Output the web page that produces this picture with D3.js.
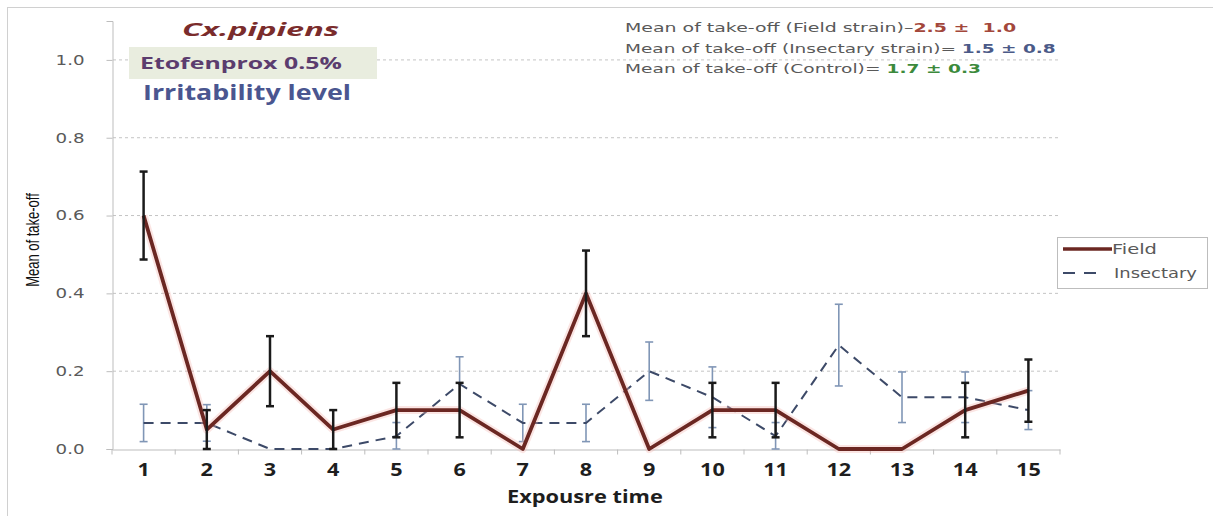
<!doctype html>
<html>
<head>
<style>
  body { margin: 0; background: #fff; }
  svg { display: block; }
  .grid line { stroke: #c4c4c4; stroke-dasharray: 3,3; }
  .pre { white-space: pre; }
</style>
<script src="https://d3js.org/d3.v7.min.js"></script>
</head>
<body>
<script>
// values
var times = [1, 2, 3, 4, 5, 6, 7, 8, 9, 10, 11, 12, 13, 14, 15];
var fieldMean = [0.6, 0.05, 0.2, 0.05, 0.1, 0.1, 0, 0.4, 0, 0.1, 0.1, 0, 0, 0.1, 0.15];
var fieldErr = [0.113, 0.05, 0.09, 0.05, 0.07, 0.07, 0, 0.11, 0, 0.07, 0.07, 0, 0, 0.07, 0.08];
var insectMean = [0.067, 0.067, 0, 0, 0.033, 0.167, 0.067, 0.067, 0.2, 0.133, 0.033, 0.267, 0.133, 0.133, 0.1];
var insectErr = [0.048, 0.047, 0, 0, 0.035, 0.07, 0.048, 0.048, 0.075, 0.078, 0.035, 0.105, 0.065, 0.065, 0.05];
var yTicks = [0, 0.2, 0.4, 0.6, 0.8, 1.0];
var seriesNames = ["Field", "Insectary"];
var summaryLabels = ["Mean of take-off (Field strain)\u2013", "Mean of take-off (Insectary strain)= ", "Mean of take-off (Control)= "];
var summaryValues = ["2.5 \u00b1  1.0", "1.5 \u00b1 0.8", "1.7 \u00b1 0.3"];

var canvasWidth = 1213;
var canvasHeight = 516;
var fieldColor = "#6b2722";
var insectColor = "#3d4a68";
var insectErrColor = "#8096b6";
var summaryColors = ["#a3473b", "#4b5a88", "#3c8a3c"];

var svg = d3.select("body").append("svg")
    .attr("width", canvasWidth)
    .attr("height", canvasHeight);

// the source image is stretched sideways, so text gets widened to fit
function stretchTo(text, width) {
    var w = text.node().getBBox().width;
    var x = +text.attr("x"), y = +text.attr("y");
    text.attr("x", 0).attr("y", 0)
        .attr("transform", "translate(" + x + "," + y + ") scale(" + (width / w) + ",1)");
}

// outer frame
svg.append("rect")
    .attr("x", 7.5).attr("y", 7.5)
    .attr("width", canvasWidth + 10).attr("height", canvasHeight + 10)
    .attr("fill", "none").attr("stroke", "#d0d0d0");

var xScale = d3.scaleBand().domain(times).range([112, 1060]);
var yScale = d3.scaleLinear().domain([0, 1.1]).range([449, 21]);
var cx = function(i) { return xScale(times[i]) + xScale.bandwidth() / 2; };

// gridlines
svg.append("g").attr("class", "grid")
    .selectAll("line")
    .data(yTicks.slice(1))
    .enter().append("line")
        .attr("x1", 113).attr("x2", 1060)
        .attr("y1", function(d) { return yScale(d); })
        .attr("y2", function(d) { return yScale(d); });

// Y axis
var yAxis = svg.append("g")
    .attr("transform", "translate(112.5,0)")
    .call(d3.axisLeft(yScale).tickValues(yTicks).tickSize(6).tickPadding(22).tickFormat(d3.format(".1f")));
yAxis.select(".domain").attr("stroke", "#bdbdbd");
yAxis.selectAll(".tick line").attr("stroke", "#bdbdbd");
yAxis.selectAll(".tick text")
    .attr("fill", "#5a5a5a")
    .style("font-family", "DejaVu Sans")
    .style("font-size", "13.5px")
    .attr("x", -28 / 1.35)
    .attr("transform", "scale(1.35,1)");

// X axis
var xAxis = svg.append("g")
    .attr("transform", "translate(0,449.5)")
    .call(d3.axisBottom(xScale).tickSize(0).tickPadding(14));
xAxis.select(".domain").attr("stroke", "#bdbdbd");
xAxis.selectAll(".tick text")
    .attr("fill", "#1e1e1e")
    .style("font-family", "Open Sans")
    .style("font-weight", "bold")
    .style("font-size", "18px")
    .attr("transform", "scale(1.2,1)");
xAxis.selectAll(".edge")
    .data(times.concat([16]))
    .enter().append("line")
        .attr("x1", function(d, i) { return 112 + i * xScale.bandwidth(); })
        .attr("x2", function(d, i) { return 112 + i * xScale.bandwidth(); })
        .attr("y1", 0).attr("y2", 5)
        .attr("stroke", "#bdbdbd");

// axis titles
var xTitle = svg.append("text")
    .attr("x", 507).attr("y", 503)
    .attr("fill", "#1e1e1e")
    .style("font-family", "Open Sans")
    .style("font-weight", "bold")
    .style("font-size", "17px")
    .text("Expousre time");
stretchTo(xTitle, 156);

svg.append("text")
    .attr("transform", "translate(39,240) rotate(-90) scale(1,1.35)")
    .attr("text-anchor", "middle")
    .attr("fill", "#111")
    .style("font-family", "Liberation Sans Narrow, Liberation Sans")
    .style("font-size", "13px")
    .text("Mean of take-off");

// error bars
function errorBars(mean, err, color, width, cls) {
    var idx = d3.range(mean.length).filter(function(i) { return err[i] > 0; });
    var g = svg.append("g").attr("stroke", color).attr("stroke-width", width);
    g.selectAll("." + cls + "v").data(idx).enter().append("line")
        .attr("x1", cx).attr("x2", cx)
        .attr("y1", function(i) { return yScale(Math.max(0, mean[i] - err[i])); })
        .attr("y2", function(i) { return yScale(mean[i] + err[i]); });
    g.selectAll("." + cls + "t").data(idx).enter().append("line")
        .attr("x1", function(i) { return cx(i) - 4; })
        .attr("x2", function(i) { return cx(i) + 4; })
        .attr("y1", function(i) { return yScale(mean[i] + err[i]); })
        .attr("y2", function(i) { return yScale(mean[i] + err[i]); });
    g.selectAll("." + cls + "b").data(idx).enter().append("line")
        .attr("x1", function(i) { return cx(i) - 4; })
        .attr("x2", function(i) { return cx(i) + 4; })
        .attr("y1", function(i) { return yScale(Math.max(0, mean[i] - err[i])); })
        .attr("y2", function(i) { return yScale(Math.max(0, mean[i] - err[i])); });
}

var line = function(mean) {
    return d3.line()
        .x(function(d, i) { return cx(i); })
        .y(function(d) { return yScale(d); })(mean);
};

errorBars(insectMean, insectErr, insectErrColor, 1.6, "ie");

svg.append("path")
    .attr("d", line(insectMean))
    .attr("fill", "none")
    .attr("stroke", insectColor)
    .attr("stroke-width", 2)
    .attr("stroke-dasharray", "10,7");

// soft pink halo round the field line
svg.append("path")
    .attr("d", line(fieldMean))
    .attr("fill", "none")
    .attr("stroke", "#f3b4ae")
    .attr("stroke-opacity", 0.35)
    .attr("stroke-width", 8)
    .attr("stroke-linejoin", "round");
svg.append("path")
    .attr("d", line(fieldMean))
    .attr("fill", "none")
    .attr("stroke", fieldColor)
    .attr("stroke-width", 3.8)
    .attr("stroke-linejoin", "round");

errorBars(fieldMean, fieldErr, "#1a1a1a", 2.5, "fe");

// title block
svg.append("rect")
    .attr("x", 129).attr("y", 47)
    .attr("width", 248).attr("height", 32)
    .attr("fill", "#e9eddf");

var t1 = svg.append("text")
    .attr("x", 182).attr("y", 36)
    .attr("fill", "#7a2c2c")
    .style("font-family", "Open Sans")
    .style("font-weight", "bold")
    .style("font-style", "italic")
    .style("font-size", "18px")
    .text("Cx.pipiens");
stretchTo(t1, 158);

var t2 = svg.append("text")
    .attr("x", 140).attr("y", 69)
    .attr("fill", "#5b3c6e")
    .style("font-family", "Open Sans")
    .style("font-weight", "bold")
    .style("font-size", "15.5px")
    .text("Etofenprox 0.5%");
stretchTo(t2, 202);

var t3 = svg.append("text")
    .attr("x", 143).attr("y", 100)
    .attr("fill", "#4a5690")
    .style("font-family", "Open Sans")
    .style("font-weight", "bold")
    .style("font-size", "21px")
    .text("Irritability level");
stretchTo(t3, 208);

// summary lines, top right
var summaryWidths = [392, 431, 356];
summaryLabels.forEach(function(lbl, i) {
    var t = svg.append("text")
        .attr("class", "pre")
        .attr("x", 625).attr("y", 32 + i * 20.5)
        .style("font-family", "DejaVu Sans")
        .style("font-size", "12.5px");
    t.append("tspan").attr("fill", "#595959").text(lbl);
    t.append("tspan").attr("fill", summaryColors[i]).style("font-weight", "bold").text(summaryValues[i]);
    stretchTo(t, summaryWidths[i]);
});

// legend
var legend = svg.append("g").attr("transform", "translate(1057,237)");
legend.append("rect")
    .attr("x", 0.5).attr("y", 0.5)
    .attr("width", 150).attr("height", 51)
    .attr("fill", "#fff").attr("stroke", "#bdbdbd");
legend.append("line")
    .attr("x1", 6).attr("x2", 55).attr("y1", 12).attr("y2", 12)
    .attr("stroke", fieldColor).attr("stroke-width", 3.5);
legend.append("line")
    .attr("x1", 6).attr("x2", 44).attr("y1", 36).attr("y2", 36)
    .attr("stroke", insectColor).attr("stroke-width", 2)
    .attr("stroke-dasharray", "12,9");
var legendText = legend.selectAll(".lt")
    .data(seriesNames)
    .enter().append("text")
        .attr("x", function(d, i) { return i === 0 ? 55 : 57; })
        .attr("y", function(d, i) { return 17 + i * 24; })
        .attr("fill", "#595959")
        .style("font-family", "DejaVu Sans")
        .style("font-size", "14px")
        .text(function(d) { return d; });
legendText.each(function(d, i) {
    stretchTo(d3.select(this), i === 0 ? 45 : 83);
});
</script>
</body>
</html>
